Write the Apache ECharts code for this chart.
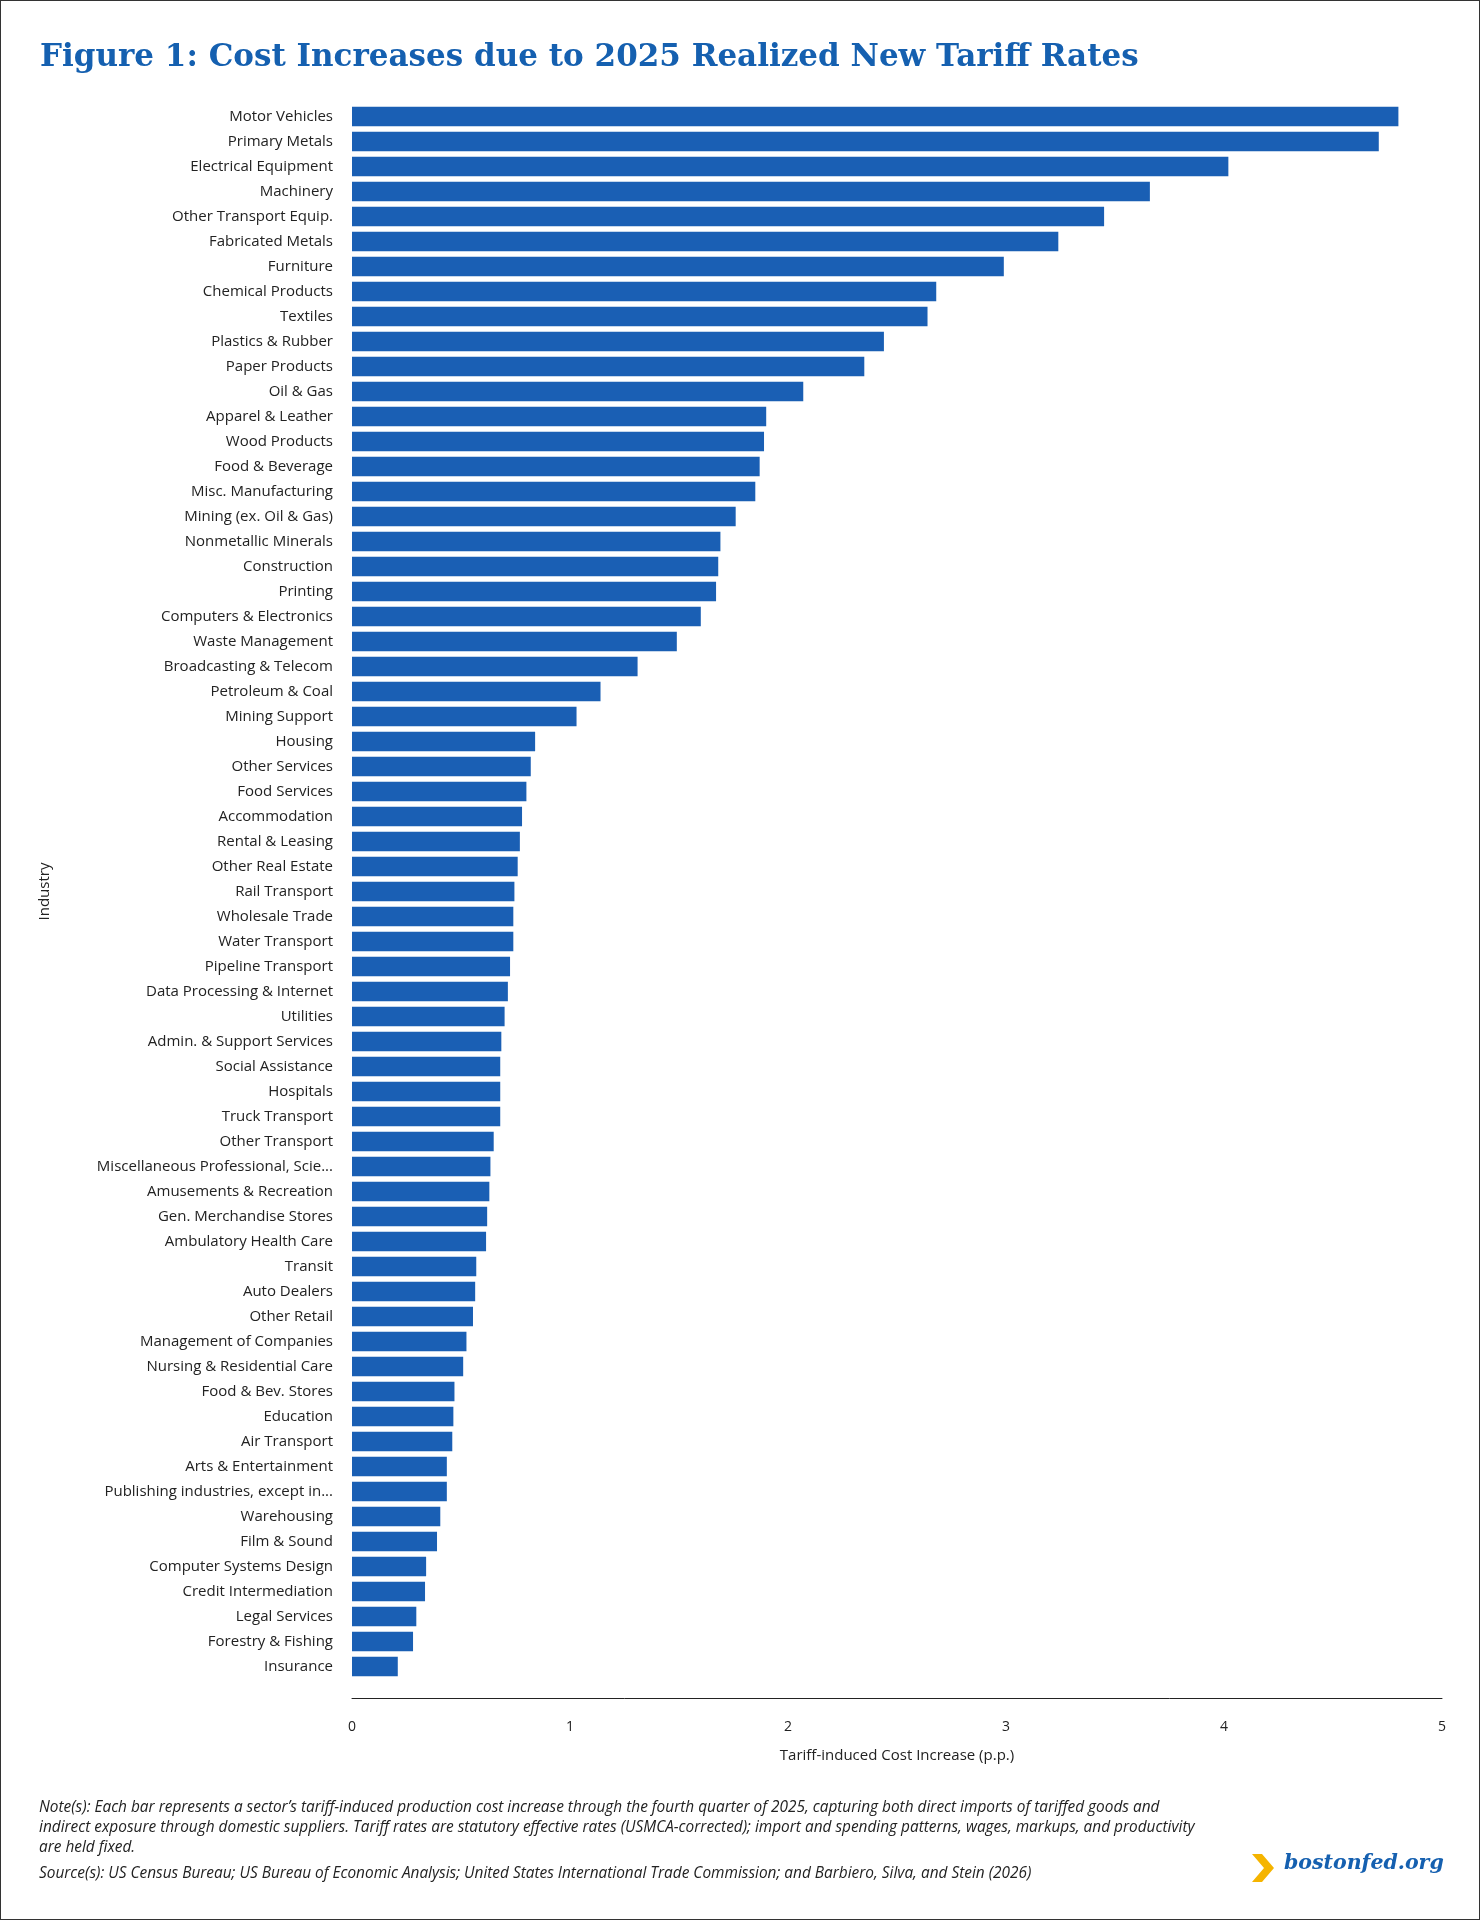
<!DOCTYPE html>
<html><head><meta charset="utf-8">
<script src="https://cdn.jsdelivr.net/npm/echarts@6/dist/echarts.min.js"></script>
<style>
html,body{margin:0;padding:0;background:#fff;}
#wrap{position:relative;width:1478px;height:1918px;border:1px solid #333;}
#c{position:absolute;left:0;top:0;width:1478px;height:1918px;}
</style></head><body>
<div id="wrap"><div id="c"></div></div>
<script>
const categories = ["Motor Vehicles","Primary Metals","Electrical Equipment","Machinery","Other Transport Equip.","Fabricated Metals","Furniture","Chemical Products","Textiles","Plastics & Rubber","Paper Products","Oil & Gas","Apparel & Leather","Wood Products","Food & Beverage","Misc. Manufacturing","Mining (ex. Oil & Gas)","Nonmetallic Minerals","Construction","Printing","Computers & Electronics","Waste Management","Broadcasting & Telecom","Petroleum & Coal","Mining Support","Housing","Other Services","Food Services","Accommodation","Rental & Leasing","Other Real Estate","Rail Transport","Wholesale Trade","Water Transport","Pipeline Transport","Data Processing & Internet","Utilities","Admin. & Support Services","Social Assistance","Hospitals","Truck Transport","Other Transport","Miscellaneous Professional, Scie...","Amusements & Recreation","Gen. Merchandise Stores","Ambulatory Health Care","Transit","Auto Dealers","Other Retail","Management of Companies","Nursing & Residential Care","Food & Bev. Stores","Education","Air Transport","Arts & Entertainment","Publishing industries, except in...","Warehousing","Film & Sound","Computer Systems Design","Credit Intermediation","Legal Services","Forestry & Fishing","Insurance"];
const values = [4.80,4.71,4.02,3.66,3.45,3.24,2.99,2.68,2.64,2.44,2.35,2.07,1.90,1.89,1.87,1.85,1.76,1.69,1.68,1.67,1.60,1.49,1.31,1.14,1.03,0.84,0.82,0.80,0.78,0.77,0.76,0.745,0.74,0.74,0.725,0.715,0.70,0.685,0.68,0.68,0.68,0.65,0.635,0.63,0.62,0.615,0.57,0.565,0.555,0.525,0.51,0.47,0.465,0.46,0.435,0.435,0.405,0.39,0.34,0.335,0.295,0.28,0.21];
const xTicks = [0,1,2,3,4,5];
const chart = echarts.init(document.getElementById('c'));
chart.setOption({
  animation:false,
  title:{text:'Figure 1: Cost Increases due to 2025 Realized New Tariff Rates',left:34,top:36,
    textStyle:{fontFamily:'DejaVu Serif',fontWeight:'bold',fontSize:31,color:'#1560b0'}},
  grid:{left:351,right:37,top:103,bottom:240},
  xAxis:{type:'value',min:0,max:5,interval:1,offset:19,
    name:'Tariff-induced Cost Increase (p.p.)',nameLocation:'middle',nameGap:50,
    nameTextStyle:{fontFamily:'Open Sans',fontSize:15,color:'#222'},
    axisLine:{show:true,lineStyle:{color:'#222'}},axisTick:{show:false},splitLine:{show:false},
    axisLabel:{fontFamily:'Open Sans',fontSize:14,color:'#222',margin:22,formatter:v=>xTicks.includes(v)?String(v):''}},
  yAxis:{type:'category',inverse:true,data:categories,
    name:'Industry',nameLocation:'middle',nameGap:300,nameRotate:90,
    nameTextStyle:{fontFamily:'Open Sans',fontSize:15,color:'#222'},
    axisLine:{show:false},axisTick:{show:false},
    axisLabel:{fontFamily:'Open Sans',fontSize:15,color:'#222',margin:19,interval:0}},
  series:[{type:'bar',data:values,barCategoryGap:'22%',itemStyle:{color:'#1a5fb4'}}],
  graphic:[
    {type:'text',left:38,top:1797,style:{text:'Note(s): Each bar represents a sector\u2019s tariff-induced production cost increase through the fourth quarter of 2025, capturing both direct imports of tariffed goods and\nindirect exposure through domestic suppliers. Tariff rates are statutory effective rates (USMCA-corrected); import and spending patterns, wages, markups, and productivity\nare held fixed.',
      font:'italic 15.4px "Open Sans"',fill:'#222',lineHeight:20}},
    {type:'text',left:38,top:1865,style:{text:'Source(s): US Census Bureau; US Bureau of Economic Analysis; United States International Trade Commission; and Barbiero, Silva, and Stein (2026)',
      font:'italic 15.4px "Open Sans"',fill:'#222'}},
    {type:'polygon',shape:{points:[[1251,1853],[1261,1853],[1273,1867],[1261,1881],[1251,1881],[1263,1867]]},style:{fill:'#f5b400'}},
    {type:'text',left:1283,top:1853,style:{text:'bostonfed.org',font:'italic bold 20.5px "DejaVu Serif"',fill:'#1560b0'}}
  ]
});
</script></body></html>
